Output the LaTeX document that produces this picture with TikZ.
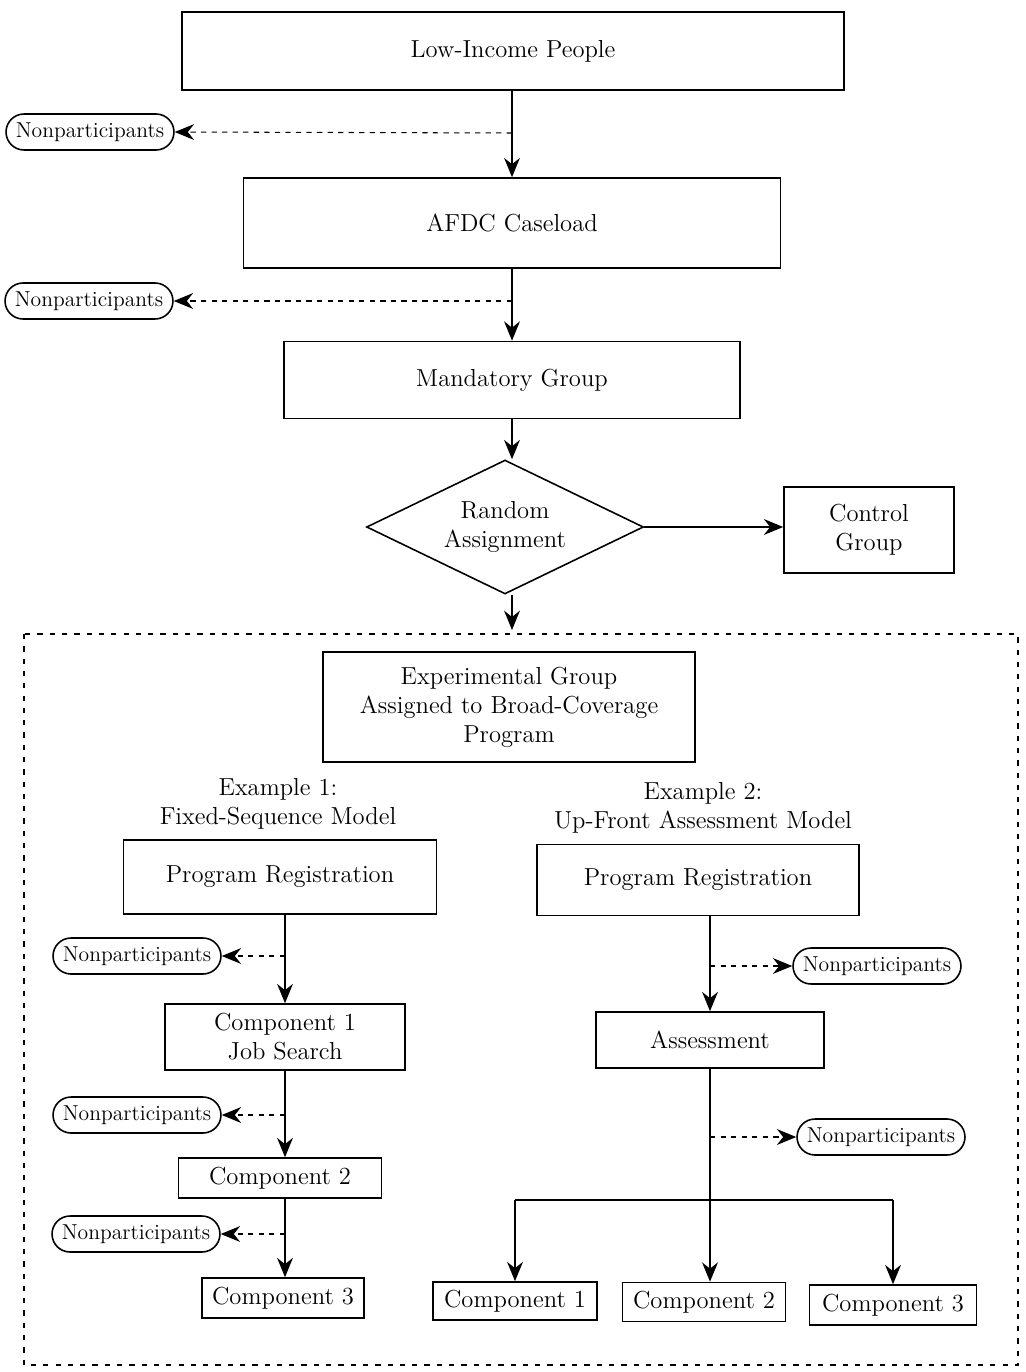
\documentclass[tikz,border=0pt]{standalone}
\usepackage{tikz}
\usetikzlibrary{arrows.meta,positioning,shapes.geometric,shapes.misc,calc}

\begin{document}
\begin{tikzpicture}[x=0.02cm,y=-0.02cm,
  box/.style={rectangle,draw,line width=0.9pt,align=center,inner sep=2pt,
              font=\fontsize{14}{16.5}\selectfont},
  dia/.style={diamond,draw,line width=0.9pt,align=center,aspect=2.07,inner sep=0pt,
              minimum width=5.54cm,minimum height=2.68cm,font=\fontsize{14}{16.5}\selectfont},
  pill/.style={rounded rectangle,draw,line width=0.9pt,minimum height=0.72cm,
               minimum width=3.5cm,inner sep=2pt,font=\fontsize{12.3}{14}\selectfont},
  ar/.style={-{Stealth[length=11pt,width=9pt]},line width=1pt},
  np/.style={-{Stealth[length=11pt,width=9pt]},line width=0.6pt,dash pattern=on 3pt off 3pt},
  lab/.style={align=center,font=\fontsize{14}{16.5}\selectfont}
]
\useasboundingbox (0,0) rectangle (1026,1372);

% main column
\node[box,minimum width=13.24cm,minimum height=1.56cm] (lowinc) at (513,51) {Low-Income People};
\node[box,minimum width=10.74cm,minimum height=1.8cm]  (afdc)   at (512,223) {AFDC Caseload};
\node[box,minimum width=9.12cm,minimum height=1.54cm]  (mand)   at (512,380) {Mandatory Group};
\node[dia] (rand) at (505,527) {Random\\Assignment};
\node[box,minimum width=3.4cm,minimum height=1.72cm]   (ctrl)   at (869,530) {Control\\Group};

\node[pill] (npA) at (90,132)  {Nonparticipants};
\node[pill] (npB) at (89,301)  {Nonparticipants};
\coordinate (tA) at (512,133);
\coordinate (tB) at (512,301);

\draw[ar] (lowinc.south -| afdc) -- (afdc.north);
\draw[ar] (afdc) -- (mand);
\draw[ar] (mand.south) -- (mand.south |- rand.north);
\draw[ar] (rand.east) -- (rand.east -| ctrl.west);
\draw[np] (tA) -- (npA.east);
\draw[np] (tB) -- (npB.east);

% experimental group
\draw[line width=0.6pt,dash pattern=on 3pt off 4pt] (24,634) rectangle (1018,1365);
\coordinate (xin) at (512,630);
\draw[ar] (rand.south -| xin) -- (xin);
\node[box,minimum width=7.44cm,minimum height=2.2cm] (expg) at (509,707)
  {Experimental Group\\Assigned to Broad-Coverage\\Program};

\node[lab] (exA) at (278,804) {Example 1:\\Fixed-Sequence Model};
\node[lab] (exB) at (703,808) {Example 2:\\Up-Front Assessment Model};

% example 1
\node[box,minimum width=6.26cm,minimum height=1.48cm] (regA) at (280,877) {Program Registration};
\node[box,minimum width=4.8cm,minimum height=1.32cm]  (cmpA) at (285,1037) {Component 1\\Job Search};
\node[box,minimum width=4.06cm,minimum height=0.8cm]  (cmpB) at (280,1178) {Component 2};
\node[box,minimum width=3.24cm,minimum height=0.8cm]  (cmpC) at (283,1298) {Component 3};

\node[pill] (npC) at (137,956)  {Nonparticipants};
\node[pill] (npD) at (137,1115) {Nonparticipants};
\node[pill] (npE) at (136,1234) {Nonparticipants};
\coordinate (tC) at (285,956);
\coordinate (tD) at (285,1115);
\coordinate (tE) at (285,1234);

\draw[ar] (regA.south -| cmpA) -- (cmpA.north);
\draw[ar] (cmpA.south) -- (cmpA.south |- cmpB.north);
\draw[ar] (cmpB.south -| cmpA) -- (cmpA |- cmpC.north);
\draw[np] (tC) -- (npC.east);
\draw[np] (tD) -- (npD.east);
\draw[np] (tE) -- (npE.east);

% example 2
\node[box,minimum width=6.44cm,minimum height=1.42cm] (regB) at (698,880) {Program Registration};
\node[box,minimum width=4.56cm,minimum height=1.12cm] (asmt) at (710,1040) {Assessment};
\node[box,minimum width=3.28cm,minimum height=0.76cm] (cmpD) at (515,1301) {Component 1};
\node[box,minimum width=3.26cm,minimum height=0.78cm] (cmpE) at (704,1302) {Component 2};
\node[box,minimum width=3.34cm,minimum height=0.8cm]  (cmpF) at (893,1305) {Component 3};

\node[pill] (npF) at (877,966)  {Nonparticipants};
\node[pill] (npG) at (881,1137) {Nonparticipants};
\coordinate (tF) at (710,966);
\coordinate (tG) at (710,1137);
\coordinate (br) at (710,1200);

\draw[ar] (regB.south -| asmt) -- (asmt.north);
\draw[ar] (asmt.south) -- (asmt |- cmpE.north);
\draw[line width=1pt] (cmpD |- br) -- (cmpF |- br);
\draw[ar] (cmpD |- br) -- (cmpD.north);
\draw[ar] (cmpF |- br) -- (cmpF.north);
\draw[np] (tF) -- (npF.west);
\draw[np] (tG) -- (npG.west);
\end{tikzpicture}
\end{document}
